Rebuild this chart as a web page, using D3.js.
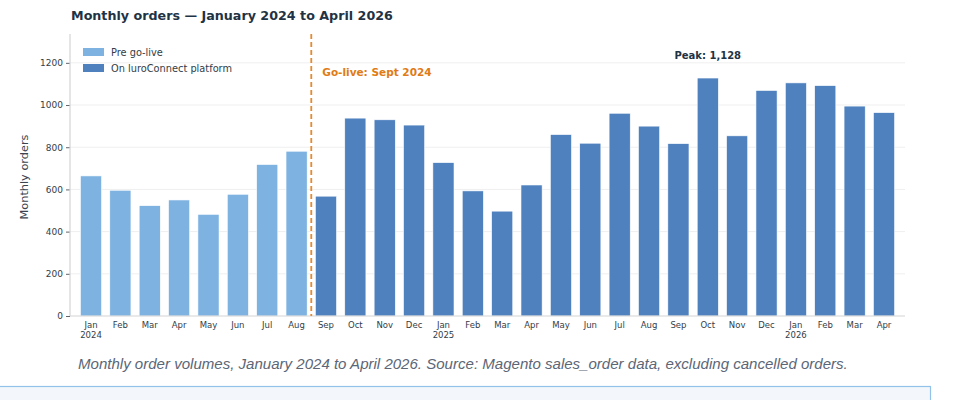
<!DOCTYPE html>
<html>
<head>
<meta charset="utf-8">
<script src="https://cdn.jsdelivr.net/npm/d3@7/dist/d3.min.js"></script>
<style>
  html, body { margin: 0; padding: 0; background: #ffffff; }
  svg { display: block; }
</style>
</head>
<body>
<svg id="chart" width="980" height="400"></svg>
<script>
// ---- data ----
const months = ["Jan","Feb","Mar","Apr","May","Jun","Jul","Aug","Sep","Oct","Nov","Dec",
                "Jan","Feb","Mar","Apr","May","Jun","Jul","Aug","Sep","Oct","Nov","Dec",
                "Jan","Feb","Mar","Apr"];
const years = ["2024","","","","","","","","","","","",
               "2025","","","","","","","","","","","",
               "2026","","",""];
const orders = [664, 596, 523, 550, 482, 577, 718, 781, 568, 938, 930, 905,
                727, 593, 497, 621, 860, 819, 961, 900, 817, 1128, 854, 1069,
                1105, 1092, 995, 964];
const phase = ["pre","pre","pre","pre","pre","pre","pre","pre",
               "post","post","post","post","post","post","post","post","post","post","post","post",
               "post","post","post","post","post","post","post","post"];
const yTicks = [0, 200, 400, 600, 800, 1000, 1200];
const goLiveIndex = 8;
const legendLabels = ["Pre go-live", "On luroConnect platform"];

// ---- layout ----
const svg = d3.select("#chart");
const L = 70, R = 905, T = 34, B = 316;
const colors = { pre: "#7db2e1", post: "#4f81bf" };
const ink = "#1f3344";
const font = "'DejaVu Sans', sans-serif";

const idx = d3.range(orders.length);
const x = d3.scaleBand().domain(idx).range([L, R]).paddingInner(0.28).paddingOuter(0.355);
const yMax = d3.max(orders) * 1.185;
const y = d3.scaleLinear().domain([0, yMax]).range([B, T]);

// title
svg.append("text").attr("x", 71).attr("y", 20)
  .attr("font-family", font).attr("font-weight", "bold").attr("font-size", 12.7)
  .attr("fill", ink).text("Monthly orders \u2014 January 2024 to April 2026");

// gridlines
svg.append("g").selectAll("line").data(yTicks.filter(d => d > 0)).join("line")
  .attr("x1", L).attr("x2", R).attr("y1", d => y(d)).attr("y2", d => y(d))
  .attr("stroke", "#efefef").attr("stroke-width", 1);

// bars
svg.append("g").selectAll("rect").data(idx).join("rect")
  .attr("x", i => x(i)).attr("width", x.bandwidth())
  .attr("y", i => y(orders[i])).attr("height", i => y(0) - y(orders[i]))
  .attr("fill", i => colors[phase[i]])
  .attr("stroke", "#ffffff").attr("stroke-width", 0.6);

// y axis
const yAxis = d3.axisLeft(y).tickValues(yTicks).tickFormat(d3.format("d")).tickSize(4).tickPadding(3);
const gy = svg.append("g").attr("transform", `translate(${L},0)`).call(yAxis);
gy.select(".domain").remove();
gy.selectAll(".tick line").attr("stroke", "#333d47").attr("stroke-width", 0.8);
gy.selectAll(".tick text").attr("font-family", font).attr("font-size", 9).attr("fill", "#333d47");

// spines
svg.append("line").attr("x1", L).attr("x2", L).attr("y1", T).attr("y2", B)
  .attr("stroke", "#d4d4d4").attr("stroke-width", 1.2);
svg.append("line").attr("x1", L).attr("x2", R).attr("y1", B).attr("y2", B)
  .attr("stroke", "#d4d4d4").attr("stroke-width", 1.2);

// x axis labels
const xAxis = d3.axisBottom(x).tickSize(0).tickPadding(6).tickFormat(i => months[i]);
const gx = svg.append("g").attr("transform", `translate(0,${B})`).call(xAxis);
gx.select(".domain").remove();
gx.selectAll(".tick text").attr("font-family", font).attr("font-size", 8.5).attr("fill", "#333d47")
  .each(function(i) {
    if (years[i]) {
      d3.select(this).append("tspan").attr("x", 0).attr("dy", "1.2em").text(years[i]);
    }
  });

// y label
svg.append("text").attr("transform", `translate(28,${(T + B) / 2 + 2}) rotate(-90)`)
  .attr("text-anchor", "middle").attr("font-family", font).attr("font-size", 11.3)
  .attr("fill", "#3a4450").text("Monthly orders");

// go-live line
const gx0 = (x(goLiveIndex - 1) + x.bandwidth() + x(goLiveIndex)) / 2;
svg.append("line").attr("x1", gx0).attr("x2", gx0).attr("y1", T).attr("y2", B)
  .attr("stroke", "#e8892b").attr("stroke-width", 1.8).attr("stroke-dasharray", "5,3");
svg.append("text").attr("x", gx0 + 11).attr("y", 76)
  .attr("font-family", font).attr("font-weight", "bold").attr("font-size", 10.5)
  .attr("fill", "#e07b16").text("Go-live: Sept 2024");

// peak annotation
const peakI = orders.indexOf(d3.max(orders));
svg.append("text").attr("x", x(peakI) + x.bandwidth() / 2).attr("y", y(orders[peakI]) - 19)
  .attr("text-anchor", "middle").attr("font-family", font).attr("font-weight", "bold")
  .attr("font-size", 10).attr("fill", ink).text("Peak: " + d3.format(",")(orders[peakI]));

// legend
const lg = svg.append("g").attr("transform", "translate(83,48)");
legendLabels.forEach((lab, k) => {
  lg.append("rect").attr("x", 0).attr("y", k * 16).attr("width", 21).attr("height", 8)
    .attr("fill", k === 0 ? colors.pre : colors.post);
  lg.append("text").attr("x", 28).attr("y", k * 16 + 8).attr("font-family", font)
    .attr("font-size", 9.8).attr("fill", "#333d47").text(lab);
});

// caption
svg.append("text").attr("x", 78).attr("y", 369)
  .attr("font-family", "'Liberation Sans', Arial, sans-serif").attr("font-style", "italic")
  .attr("font-size", 15.05).attr("fill", "#5b6676")
  .text("Monthly order volumes, January 2024 to April 2026. Source: Magento sales_order data, excluding cancelled orders.");

// box below
svg.append("rect").attr("x", -2).attr("y", 386.5).attr("width", 932.5).attr("height", 20)
  .attr("fill", "#f3f7fb").attr("stroke", "#92c2ea").attr("stroke-width", 1.2);
</script>
</body>
</html>
